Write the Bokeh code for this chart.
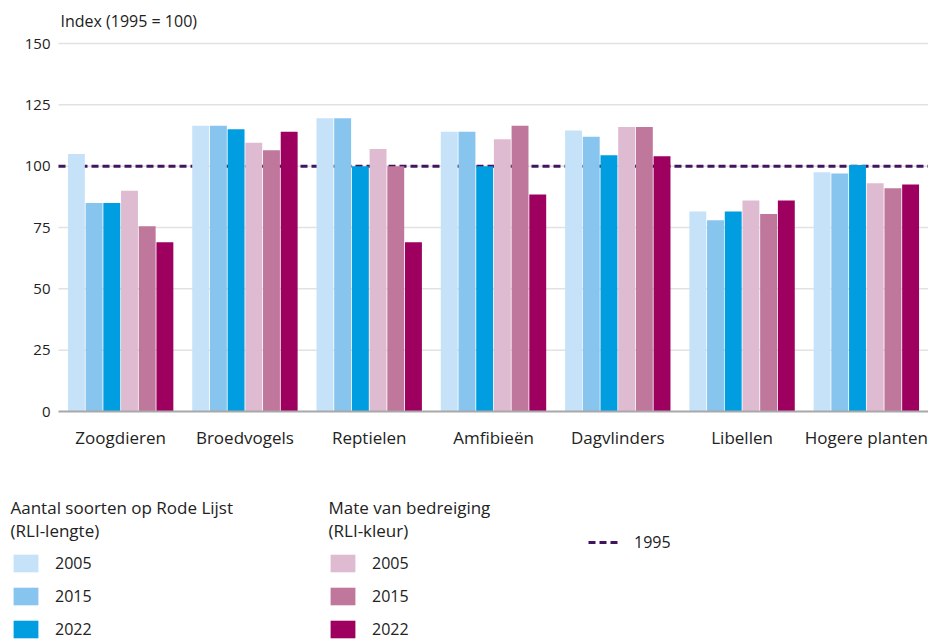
from bokeh.plotting import figure
from bokeh.models import Range1d, Legend, LegendItem, Label, ColumnDataSource
from bokeh.core.properties import value
from bokeh.transform import dodge
from bokeh.embed import file_html
from bokeh.resources import INLINE

categories = ["Zoogdieren", "Broedvogels", "Reptielen", "Amfibieën", "Dagvlinders", "Libellen", "Hogere planten"]
rli_lengte_2005 = [105, 116.5, 119.5, 114, 114.5, 81.5, 97.5]
rli_lengte_2015 = [85, 116.5, 119.5, 114, 112, 78, 97]
rli_lengte_2022 = [85, 115, 100, 100, 104.5, 81.5, 100.5]
rli_kleur_2005 = [90, 109.5, 107, 111, 116, 86, 93]
rli_kleur_2015 = [75.5, 106.5, 100, 116.5, 116, 80.5, 91]
rli_kleur_2022 = [69, 114, 69, 88.5, 104, 86, 92.5]
baseline_1995 = 100
y_ticks = [0, 25, 50, 75, 100, 125, 150]
years = ["2005", "2015", "2022"]

FONT = "Open Sans"
TEXT = "#222222"
REF_COLOR = "#42145f"
GRID = "#e2e2e2"
blue = ["#c6e2f8", "#87c4ee", "#009ee0"]
pink = ["#dfbbd1", "#bf779b", "#9e0060"]

n = len(categories)
centers = [i + 0.5 for i in range(n)]

src = ColumnDataSource(dict(
    xc=centers, cat=categories,
    l05=rli_lengte_2005, l15=rli_lengte_2015, l22=rli_lengte_2022,
    k05=rli_kleur_2005, k15=rli_kleur_2015, k22=rli_kleur_2022,
))

W, H = 928, 643
left_px, zero_px, top150_px = 58, 411, 43
px_per_cat = (W - left_px) / n
px_per_unit = (zero_px - top150_px) / 150.0
x_start = -left_px / px_per_cat
y_end = zero_px / px_per_unit
y_start = -(H - zero_px) / px_per_unit

p = figure(x_range=Range1d(x_start, n), y_range=Range1d(y_start, y_end),
           width=W, height=H, output_backend="svg", toolbar_location=None,
           x_axis_location=None, y_axis_location=None,
           min_border_left=0, min_border_right=0, min_border_top=0, min_border_bottom=0)
p.outline_line_color = None
p.grid.grid_line_color = None

# gridlines
grid_src = ColumnDataSource(dict(y=y_ticks[1:], x0=[0] * (len(y_ticks) - 1), x1=[n] * (len(y_ticks) - 1)))
p.segment(x0="x0", x1="x1", y0="y", y1="y", source=grid_src, line_color=GRID, line_width=1.5)

# 1995 reference line (drawn before bars so bars cover it)
ref = p.segment(x0=[0], x1=[n], y0=[baseline_1995], y1=[baseline_1995],
                line_color=REF_COLOR, line_width=3, line_dash="7 4")

offsets = [-0.356, -0.2136, -0.0712, 0.0712, 0.2136, 0.356]
cols = ["l05", "l15", "l22", "k05", "k15", "k22"]
colors = blue + pink
rends = []
for off, col, c in zip(offsets, cols, colors):
    r = p.vbar(x=dodge("xc", off), top=col, width=0.136, source=src,
               fill_color=c, line_color=None)
    rends.append(r)

# x axis baseline
p.segment(x0=[0], x1=[n], y0=[y_ticks[0]], y1=[y_ticks[0]], line_color="#a8a8a8", line_width=2)

# category labels
p.text(x="xc", y=0, text="cat", source=src, text_align="center", text_baseline="middle",
       y_offset=26, text_font=value(FONT), text_font_size="17px", text_color=TEXT)

# y tick labels
tick_src = ColumnDataSource(dict(y=y_ticks, t=[str(t) for t in y_ticks]))
p.text(x=0, y="y", text="t", source=tick_src, text_align="right", text_baseline="middle",
       x_offset=-8, text_font=value(FONT), text_font_size="15px", text_color=TEXT)

def lbl(text, x, y, size):
    p.add_layout(Label(x=x, y=y, x_units="screen", y_units="screen", text=text,
                       text_font=FONT, text_font_size=size, text_color=TEXT,
                       text_baseline="middle", text_align="left"))

lbl("Index (1995 = 100)", 60, H - 20, "16px")
lbl("Aantal soorten op Rode Lijst", 10, H - 507, "17px")
lbl("(RLI-lengte)", 10, H - 530, "17px")
lbl("Mate van bedreiging", 328, H - 507, "17px")
lbl("(RLI-kleur)", 328, H - 530, "17px")

def mk_legend(items, x, y, gw):
    legend = Legend(items=items, location=(x, y), orientation="vertical",
                    glyph_width=gw, glyph_height=22, label_height=22, spacing=11,
                    label_standoff=14, padding=0, margin=0,
                    border_line_color=None, background_fill_alpha=0,
                    label_text_font=FONT, label_text_font_size="16px", label_text_color=TEXT)
    p.add_layout(legend)

mk_legend([LegendItem(label=y, renderers=[r]) for y, r in zip(years, rends[:3])], 10, 3, 31)
mk_legend([LegendItem(label=y, renderers=[r]) for y, r in zip(years, rends[3:])], 327, 3, 31)
mk_legend([LegendItem(label="1995", renderers=[ref])], 588, H - 553, 32)

open("out.html", "w").write(file_html(p, INLINE))
